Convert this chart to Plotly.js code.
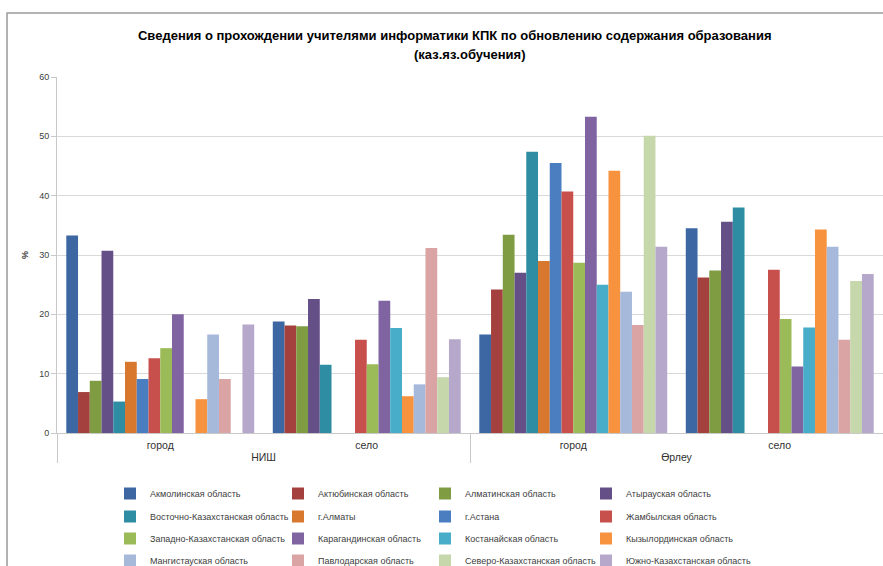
<!DOCTYPE html>
<html>
<head>
<meta charset="utf-8">
<script src="https://cdn.plot.ly/plotly-3.0.1.min.js"></script>
<style>html,body{margin:0;padding:0;background:#fff;}#chart{width:883px;height:566px;}</style>
</head>
<body>
<div id="chart"></div>
<script>
// Categories (two-level)
const outerLevel = ['НИШ', 'НИШ', 'Өрлеу', 'Өрлеу'];
const innerLevel = ['город', 'село', 'город', 'село'];

// Series names
const regions = [
  'Акмолинская область', 'Актюбинская область', 'Алматинская область', 'Атырауская область',
  'Восточно-Казахстанская область', 'г.Алматы', 'г.Астана', 'Жамбылская область',
  'Западно-Казахстанская область', 'Карагандинская область', 'Костанайская область', 'Кызылординская область',
  'Мангистауская область', 'Павлодарская область', 'Северо-Казахстанская область', 'Южно-Казахстанская область'
];

// Values per region: [НИШ город, НИШ село, Өрлеу город, Өрлеу село]
const akmola      = [33.3, 18.8, 16.6, 34.5];
const aktobe      = [6.9, 18.1, 24.2, 26.2];
const almaty      = [8.8, 18.0, 33.4, 27.4];
const atyrau      = [30.7, 22.6, 27.0, 35.6];
const vko         = [5.3, 11.5, 47.4, 38.0];
const almatyCity  = [12.0, null, 29.0, null];
const astana      = [9.1, null, 45.5, null];
const zhambyl     = [12.6, 15.7, 40.7, 27.5];
const zko         = [14.3, 11.6, 28.7, 19.2];
const karaganda   = [20.0, 22.3, 53.3, 11.2];
const kostanay    = [null, 17.7, 25.0, 17.8];
const kyzylorda   = [5.7, 6.2, 44.2, 34.3];
const mangistau   = [16.6, 8.2, 23.8, 31.4];
const pavlodar    = [9.1, 31.2, 18.2, 15.7];
const sko         = [null, 9.4, 50.1, 25.6];
const yuko        = [18.3, 15.8, 31.4, 26.8];

const seriesValues = [akmola, aktobe, almaty, atyrau, vko, almatyCity, astana, zhambyl,
  zko, karaganda, kostanay, kyzylorda, mangistau, pavlodar, sko, yuko];

const colors = ['#3C67A2', '#A4403D', '#7F9C42', '#654F87', '#2F8DA3', '#D8782E', '#4A7EC0', '#C8504C',
  '#9BBB59', '#8064A2', '#47ADC8', '#F7923F', '#A6B9DB', '#D9A4A3', '#C6D7AC', '#B6A8CA'];

const titleLine1 = 'Сведения о прохождении учителями информатики КПК по обновлению содержания образования';
const titleLine2 = '(каз.яз.обучения)';

const font = 'Liberation Sans, Arial, sans-serif';

// legend grid: 4 columns x 4 rows, one small legend per entry
const legendColX = [110, 278, 425, 586];
const legendRowTop = [479, 502, 524, 546];
const legendId = i => 'legend' + (i + 2);

const traces = regions.map((name, i) => ({
  type: 'bar',
  name: name,
  x: [outerLevel, innerLevel],
  y: seriesValues[i],
  marker: {color: colors[i], line: {width: 0}},
  legend: legendId(i),
  hoverinfo: 'name+y'
}));

const layout = {
  width: 883,
  height: 566,
  margin: {l: 57, r: 0, t: 77, b: 133, autoexpand: false},
  paper_bgcolor: '#ffffff',
  plot_bgcolor: '#ffffff',
  font: {family: font, size: 9, color: '#404040'},
  showlegend: true,
  title: {
    text: '<b>' + titleLine1 + '</b>',
    font: {family: font, size: 13, color: '#000000'},
    x: 0.515, xref: 'container', xanchor: 'center',
    y: 1 - 35 / 566, yref: 'container', yanchor: 'middle'
  },
  annotations: [{
    text: '<b>' + titleLine2 + '</b>',
    xref: 'paper', yref: 'paper',
    x: 0.5, y: 1 + 22 / 356, xanchor: 'center', yanchor: 'middle',
    showarrow: false,
    font: {family: font, size: 13, color: '#000000'}
  }],
  barmode: 'group',
  bargap: 0.09,
  bargroupgap: 0,
  xaxis: {
    type: 'multicategory',
    showdividers: true,
    dividercolor: '#c8c8c8',
    dividerwidth: 1,
    showline: true,
    linecolor: '#c8c8c8',
    linewidth: 1,
    showgrid: false,
    ticklabelstandoff: 2,
    tickfont: {family: font, size: 10.5, color: '#303030'},
    automargin: false
  },
  yaxis: {
    range: [0, 60],
    dtick: 10,
    showgrid: true,
    gridcolor: '#d9d9d9',
    gridwidth: 1,
    showline: true,
    linecolor: '#c8c8c8',
    ticks: 'outside',
    ticklen: 5,
    tickcolor: '#c8c8c8',
    tickfont: {family: font, size: 9, color: '#404040'},
    zeroline: false,
    title: {text: '<b>%</b>', font: {family: font, size: 9, color: '#404040'}, standoff: 9},
    automargin: false
  },
  shapes: [{
    type: 'rect', xref: 'paper', yref: 'paper',
    x0: -0.0605, x1: 1.01, y0: -0.40, y1: 1.1798,
    line: {color: '#9a9a9a', width: 1.5},
    fillcolor: 'rgba(0,0,0,0)',
    layer: 'below'
  }]
};

regions.forEach((name, i) => {
  layout[legendId(i)] = {
    orientation: 'h',
    x: legendColX[i % 4] / 883, xref: 'container', xanchor: 'left',
    y: 1 - legendRowTop[Math.floor(i / 4)] / 566, yref: 'container', yanchor: 'top',
    font: {family: font, size: 9, color: '#404040'},
    bgcolor: 'rgba(255,255,255,0)'
  };
});

Plotly.newPlot('chart', traces, layout, {displayModeBar: false, staticPlot: true});
</script>
</body>
</html>
